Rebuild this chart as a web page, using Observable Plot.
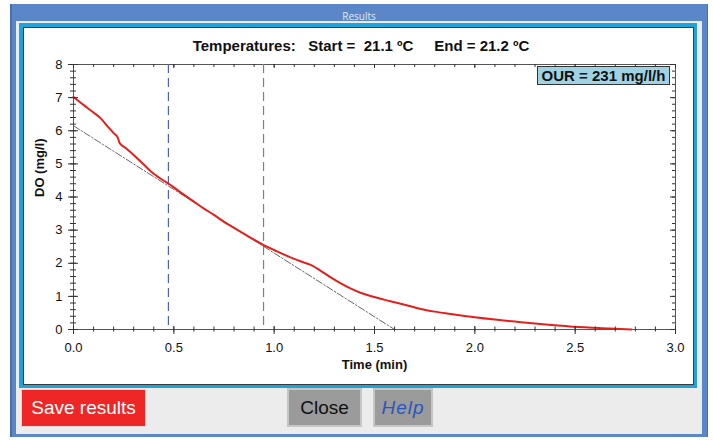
<!DOCTYPE html>
<html>
<head>
<meta charset="utf-8">
<script src="https://cdn.jsdelivr.net/npm/d3@7"></script>
<script src="https://cdn.jsdelivr.net/npm/@observablehq/plot@0.6"></script>
<style>
  html, body { margin: 0; padding: 0; background: #ffffff; width: 713px; height: 440px; overflow: hidden; }
  body { position: relative; font-family: "Liberation Sans", Arial, sans-serif; }
  .abs { position: absolute; box-sizing: border-box; }
  #win { left: 10px; top: 4px; width: 698px; height: 433px; background: #5b87c9; border-left: 2px solid #4a70aa; border-right: 1px solid #4a70aa; }
  #wintitle { left: 10px; top: 9px; width: 698px; text-align: center; font-size: 10px; color: #dfe7f5; font-family: "Open Sans", "Liberation Sans", sans-serif; }
  #client { left: 16px; top: 21px; width: 686px; height: 413px; background: #ececec; }
  #panel { left: 19px; top: 23px; width: 678px; height: 365px; background: #1ea3db; }
  #white { left: 23px; top: 27px; width: 671px; height: 358px; background: #ffffff; border: 1px solid #3a3a3a; }
  #chart { left: 23px; top: 27px; width: 671px; height: 358px; }
  #title { left: 0px; top: 38px; width: 722px; text-align: center; font-weight: bold; font-size: 15px; color: #111; white-space: pre; line-height: 15px; }
  #our { left: 537px; top: 66px; width: 133px; height: 19px; background: #9fd3e3; border: 1px solid #333; font-weight: bold; font-size: 15px; color: #111; text-align: center; line-height: 17px; white-space: pre; }
  .btn { display: flex; align-items: center; justify-content: center; font-size: 19px; }
  #save { left: 21px; top: 389px; width: 125px; height: 38px; background: #ee2626; color: #ffffff; border: 1px solid #d8d8d8; }
  #close { left: 287px; top: 388px; width: 75px; height: 39px; background: #9b9b9b; color: #111; border: 2px solid #c6c6c6; }
  #help { left: 373px; top: 388px; width: 60px; height: 39px; background: #9b9b9b; color: #2a55c0; font-style: italic; border: 2px solid #c6c6c6; letter-spacing: 1px; }
</style>
</head>
<body>
<div id="win" class="abs"></div>
<div id="wintitle" class="abs">Results</div>
<div id="client" class="abs"></div>
<div id="panel" class="abs"></div>
<div id="white" class="abs"></div>
<div id="chart" class="abs"></div>
<div id="title" class="abs">Temperatures:   Start =  21.1 ºC     End = 21.2 ºC</div>
<div id="our" class="abs">OUR = 231 mg/l/h</div>
<div id="save" class="abs btn">Save results</div>
<div id="close" class="abs btn">Close</div>
<div id="help" class="abs btn">Help</div>
<script>
// ---- data ----
const timeMin = [0.00, 0.05, 0.10, 0.135, 0.17, 0.20, 0.22, 0.23, 0.26, 0.30, 0.35, 0.40, 0.45, 0.475, 0.50, 0.55, 0.60, 0.65, 0.70, 0.75, 0.80, 0.85, 0.90, 0.95, 1.00, 1.05, 1.10, 1.15, 1.19, 1.23, 1.28, 1.33, 1.38, 1.43, 1.48, 1.53, 1.58, 1.65, 1.73, 1.80, 1.88, 1.95, 2.00, 2.10, 2.20, 2.30, 2.40, 2.50, 2.60, 2.70, 2.78];
const doMgL   = [7.02, 6.78, 6.55, 6.38, 6.13, 5.93, 5.80, 5.63, 5.48, 5.27, 4.98, 4.70, 4.49, 4.40, 4.29, 4.07, 3.86, 3.65, 3.46, 3.25, 3.07, 2.89, 2.71, 2.54, 2.40, 2.26, 2.13, 2.02, 1.93, 1.78, 1.58, 1.40, 1.24, 1.11, 1.01, 0.93, 0.85, 0.75, 0.62, 0.54, 0.47, 0.41, 0.37, 0.30, 0.24, 0.18, 0.13, 0.08, 0.05, 0.02, 0.00];
const tangentT  = [0.0, 1.6];
const tangentDO = [6.15, 0.0];
const markerT = [0.473, 0.947];
const markerColors = ["#4d5fc4", "#5f965f"];
const xTicks = [0.0, 0.5, 1.0, 1.5, 2.0, 2.5, 3.0];
const yTicks = [0, 1, 2, 3, 4, 5, 6, 7, 8];
const xMinor = d3.range(0, 3.0001, 0.1);
const yMinor = d3.range(0, 8.0001, 0.2);

const curve = timeMin.map((t, i) => ({t, v: doMgL[i]}));
const tangent = tangentT.map((t, i) => ({t, v: tangentDO[i]}));
const markers = markerT.map((t, i) => ({t, c: markerColors[i]}));

const W = 671, H = 358, mL = 50, mR = 19, mT = 37, mB = 56;
const PW = W - mL - mR, PH = H - mT - mB;
const tickColor = "#333";

const chart = Plot.plot({
  width: W, height: H,
  marginLeft: mL, marginRight: mR, marginTop: mT, marginBottom: mB,
  style: {fontFamily: "Liberation Sans, Arial, sans-serif", fontSize: "13px", color: "#111", background: "transparent"},
  x: {domain: [0, 3]},
  y: {domain: [0, 8]},
  marks: [
    Plot.frame({stroke: "#555"}),
    // vertical dashed markers
    Plot.ruleX(markers, {x: "t", stroke: "c", strokeDasharray: "9,5", strokeWidth: 1.2}),
    // tangent (regression) line
    Plot.line(tangent, {x: "t", y: "v", stroke: "#666", strokeWidth: 1, strokeDasharray: "7,2,1.5,2"}),
    // measured DO curve
    Plot.line(curve, {x: "t", y: "v", stroke: "#e2201c", strokeWidth: 2, curve: "monotone-x"}),
    // bottom ticks (crossing)
    Plot.tickX(xTicks, {x: d => d, stroke: tickColor, insetTop: PH - 3, insetBottom: -5}),
    Plot.tickX(xMinor, {x: d => d, stroke: tickColor, insetTop: PH - 2.5, insetBottom: -2.5}),
    // top ticks (inward)
    Plot.tickX(xTicks, {x: d => d, stroke: tickColor, insetTop: 0, insetBottom: PH - 4}),
    Plot.tickX(xMinor, {x: d => d, stroke: tickColor, insetTop: 0, insetBottom: PH - 3}),
    // left ticks (crossing)
    Plot.tickY(yTicks, {y: d => d, stroke: tickColor, insetLeft: -5, insetRight: PW - 5}),
    Plot.tickY(yMinor, {y: d => d, stroke: tickColor, insetLeft: -3, insetRight: PW - 3}),
    // right ticks (inward)
    Plot.tickY(yTicks, {y: d => d, stroke: tickColor, insetLeft: PW - 5, insetRight: 0}),
    Plot.tickY(yMinor, {y: d => d, stroke: tickColor, insetLeft: PW - 3, insetRight: 0}),
    // tick labels
    Plot.axisX(xTicks, {tickSize: 0, tickPadding: 13, tickFormat: d3.format(".1f"), label: null, fill: "#111", fontSize: 13}),
    Plot.axisY(yTicks, {tickSize: 0, tickPadding: 11, tickFormat: d3.format("d"), label: null, fill: "#111", fontSize: 13}),
    // axis titles
    Plot.text(["Time (min)"], {frameAnchor: "bottom", text: d => d, lineAnchor: "top", dy: 30, fontWeight: "bold", fontSize: 13, fill: "#111"}),
    Plot.text(["DO (mg/l)"], {frameAnchor: "left", text: d => d, rotate: -90, dx: -34, fontWeight: "bold", fontSize: 13, fill: "#111"})
  ]
});
document.getElementById("chart").appendChild(chart);
</script>
</body>
</html>
